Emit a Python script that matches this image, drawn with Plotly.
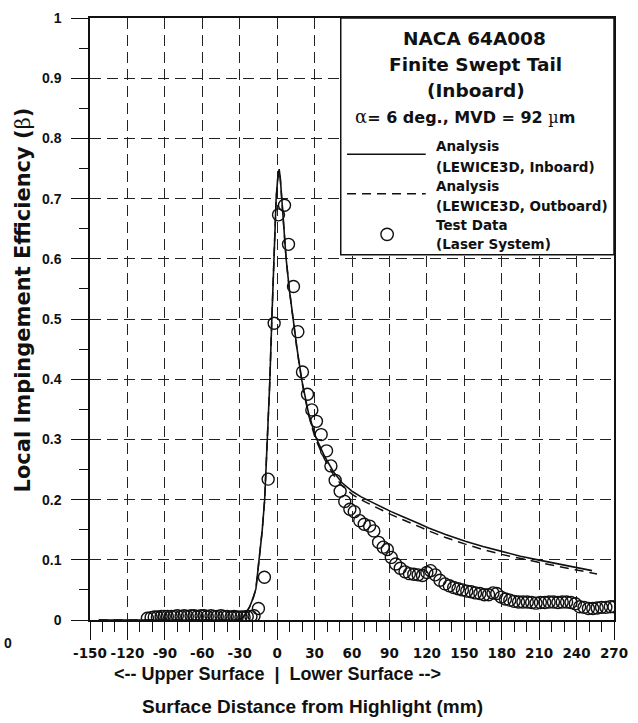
import plotly.graph_objects as go

# ---------------- data ----------------
# Analysis (LEWICE3D, Inboard) - solid line
inboard_s = [-143, -30, -26, -22, -19, -17, -14.5, -12, -10, -8.3, -6, -4.3, -2.5, -0.8, 0.5, 1.6,
             2.5, 3.7, 5.5, 7.2, 10, 12.9, 16, 19.8, 25, 30.5, 38, 45.2, 52, 60.7, 67, 74.6, 82,
             91.4, 99, 106.7, 114, 121.4, 135, 150.8, 165, 180, 195, 210, 225, 240, 252.4]
inboard_beta = [0, 0, 0.008, 0.022, 0.038, 0.052, 0.1, 0.148, 0.2, 0.279, 0.39, 0.497, 0.6, 0.70,
                0.735, 0.749, 0.735, 0.70, 0.65, 0.6, 0.545, 0.497, 0.45, 0.398, 0.345, 0.306,
                0.272, 0.246, 0.228, 0.213, 0.205, 0.197, 0.189, 0.180, 0.173, 0.167, 0.160,
                0.153, 0.142, 0.131, 0.122, 0.114, 0.106, 0.0995, 0.093, 0.087, 0.082]

# Analysis (LEWICE3D, Outboard) - dashed line
outboard_s = [-143, -30, -26, -22, -19, -17, -14.5, -12, -10, -8.3, -6, -4.3, -2.5, -0.8, 0.5, 1.6,
              2.5, 3.7, 5.5, 7.2, 10, 12.9, 16, 19.8, 25, 30.5, 38, 45.2, 52, 60.7, 67, 74.6, 82,
              91.4, 99, 106.7, 114, 121.4, 135, 150.8, 165, 180, 195, 210, 225, 240, 256.4]
outboard_beta = [0, 0, 0.008, 0.022, 0.038, 0.052, 0.1, 0.148, 0.2, 0.279, 0.39, 0.497, 0.6, 0.70,
                 0.733, 0.746, 0.733, 0.70, 0.65, 0.6, 0.545, 0.497, 0.448, 0.396, 0.342, 0.302,
                 0.267, 0.241, 0.223, 0.208, 0.200, 0.192, 0.184, 0.175, 0.168, 0.162, 0.155,
                 0.148, 0.137, 0.126, 0.117, 0.109, 0.102, 0.0955, 0.089, 0.083, 0.0766]

# Test Data (Laser System) - open circles
test_s = [-104, -101, -98.5, -96, -93, -90.5, -88, -85, -82.5, -80, -77, -74.5, -72, -69, -66.5,
          -64, -61, -58.5, -56, -53, -50.5, -48, -45, -42.5, -40, -37, -34.5, -32, -29, -26.5,
          -24, -21, -18.5, -15, -10.2, -7.2, -2.4, 1.1, 5.9, 9.1, 13.1, 16.6, 20.3, 24.3, 27.8,
          31.5, 35.3, 39.6, 43.1, 46.5, 50.5, 54.2, 58.3, 61.8, 66.2, 69.8, 74.1, 77.5, 81.3,
          85, 88.3, 91.5, 95, 98.7, 102.5, 106, 109.5, 113, 116.5, 120, 123, 126.7, 130.5,
          134.5, 138, 141.5, 145, 148.5, 152, 155.5, 159, 162.5, 166, 169.5, 173, 176, 179.5,
          183, 186.5, 190, 193.5, 197, 200.5, 204, 207.5, 211, 214.5, 218, 221.5, 225, 228.5,
          232, 235.5, 239, 242.5, 246, 249.5, 253, 256.5, 260, 263.5, 267, 270]
test_beta = [0.003, 0.004, 0.005, 0.005, 0.006, 0.006, 0.006, 0.006, 0.006, 0.007, 0.006, 0.007,
             0.006, 0.007, 0.007, 0.006, 0.007, 0.007, 0.006, 0.007, 0.006, 0.006, 0.007, 0.006,
             0.006, 0.005, 0.006, 0.005, 0.005, 0.005, 0.006, 0.006, 0.007, 0.019, 0.071, 0.234,
             0.493, 0.673, 0.689, 0.624, 0.554, 0.479, 0.412, 0.375, 0.349, 0.330, 0.308, 0.281,
             0.256, 0.232, 0.214, 0.197, 0.184, 0.180, 0.165, 0.159, 0.156, 0.148, 0.129, 0.121,
             0.117, 0.104, 0.093, 0.086, 0.080, 0.077, 0.076, 0.075, 0.074, 0.079, 0.082, 0.075,
             0.066, 0.060, 0.057, 0.054, 0.052, 0.050, 0.048, 0.047, 0.045, 0.044, 0.042, 0.042,
             0.045, 0.044, 0.038, 0.035, 0.033, 0.031, 0.030, 0.030, 0.030, 0.029, 0.028, 0.029,
             0.029, 0.030, 0.030, 0.029, 0.030, 0.030, 0.029, 0.027, 0.022, 0.021, 0.019, 0.019,
             0.020, 0.021, 0.021, 0.022, 0.022]

x_tick_values = [-150, -120, -90, -60, -30, 0, 30, 60, 90, 120, 150, 180, 210, 240, 270]
x_tick_labels = ["-150", "-120", "-90", "-60", "-30", "0", "30", "60", "90", "120", "150",
                 "180", "210", "240", "270"]
y_tick_values = [0, 0.1, 0.2, 0.3, 0.4, 0.5, 0.6, 0.7, 0.8, 0.9, 1]
y_tick_labels = ["0", "0.1", "0.2", "0.3", "0.4", "0.5", "0.6", "0.7", "0.8", "0.9", "1"]

legend_title = ["NACA 64A008", "Finite Swept Tail", "(Inboard)"]
legend_entries = [("Analysis", "(LEWICE3D, Inboard)"),
                  ("Analysis", "(LEWICE3D, Outboard)"),
                  ("Test Data", "(Laser System)")]

# ---------------- layout geometry (pixels) ----------------
W_PAGE, H_PAGE = 638, 723
ML, MR, MT, MB = 90, 22, 10, 103
PW, PH = W_PAGE - ML - MR, H_PAGE - MT - MB


def px(x):
    return (x - ML) / PW


def py(y):
    return (MT + PH - y) / PH


SANS = "DejaVu Sans"
ARIAL = "Liberation Sans, Arial, sans-serif"
BLACK = "#111111"

fig = go.Figure()

fig.add_trace(go.Scatter(x=inboard_s, y=inboard_beta, mode="lines",
                         line=dict(color=BLACK, width=1.6), showlegend=False))
fig.add_trace(go.Scatter(x=outboard_s, y=outboard_beta, mode="lines",
                         line=dict(color=BLACK, width=1.5, dash="9px,6px"), showlegend=False))
fig.add_trace(go.Scatter(x=test_s, y=test_beta, mode="markers",
                         marker=dict(symbol="circle-open", size=12, color=BLACK,
                                     line=dict(width=1.4, color=BLACK)),
                         showlegend=False))

grid_kw = dict(showgrid=True, gridcolor="#222222", gridwidth=1.1, griddash="11px,6px")

fig.update_xaxes(range=[-150, 270], tickmode="array", tickvals=x_tick_values,
                 ticktext=x_tick_labels, ticks="outside", ticklen=18, tickwidth=1.3,
                 tickcolor=BLACK, showline=True, linecolor=BLACK, linewidth=1.5, mirror=True,
                 zeroline=False, ticklabelstandoff=2,
                 tickfont=dict(family=SANS, size=13.5, color=BLACK, weight="bold"),
                 minor=dict(tickmode="linear", tick0=-150, dtick=10, ticks="outside",
                            ticklen=10, tickwidth=1.2, tickcolor=BLACK, showgrid=False),
                 **grid_kw)
fig.update_yaxes(range=[0, 1], tickmode="array", tickvals=y_tick_values,
                 ticktext=y_tick_labels, ticks="outside", ticklen=17, tickwidth=1.3,
                 tickcolor=BLACK, showline=True, linecolor=BLACK, linewidth=1.5, mirror=True,
                 zeroline=False, ticklabelstandoff=7,
                 tickfont=dict(family=ARIAL, size=14, color=BLACK, weight="bold"),
                 minor=dict(tickmode="linear", tick0=0, dtick=0.05, ticks="outside",
                            ticklen=9, tickwidth=1.2, tickcolor=BLACK, showgrid=False),
                 **grid_kw)

shapes = []
# legend box
shapes.append(dict(type="rect", xref="paper", yref="paper", x0=px(341.7), x1=1.0,
                   y0=py(250), y1=1.0, fillcolor="white", line=dict(color=BLACK, width=1.5),
                   layer="above"))
shapes.append(dict(type="line", xref="paper", yref="paper", x0=px(348), x1=px(427),
                   y0=py(148), y1=py(148), line=dict(color=BLACK, width=1.6), layer="above"))
shapes.append(dict(type="line", xref="paper", yref="paper", x0=px(348), x1=px(427),
                   y0=py(188), y1=py(188), line=dict(color=BLACK, width=1.5, dash="9px,6px"),
                   layer="above"))
shapes.append(dict(type="circle", xref="paper", yref="paper", x0=px(382), x1=px(394.5),
                   y0=py(235.5), y1=py(223), line=dict(color=BLACK, width=1.4),
                   fillcolor="rgba(0,0,0,0)", layer="above"))

annotations = []


def ann(text, x, y, size, family=SANS, xanchor="center", angle=0, weight="bold"):
    annotations.append(dict(text=text, x=px(x), y=py(y), xref="paper", yref="paper",
                            xanchor=xanchor, yanchor="middle", showarrow=False,
                            textangle=angle,
                            font=dict(family=family, size=size, color=BLACK, weight=weight)))


ann(legend_title[0], 476, 31, 18.5)
ann(legend_title[1], 477, 57, 18.5)
ann(legend_title[2], 477, 83, 18.5)
ann("<span style='font-family:DejaVu Serif;font-weight:normal;font-size:18px'>α</span>= 6 deg., MVD = 92 "
    "<span style='font-family:DejaVu Serif;font-weight:normal'>µ</span>m", 466, 110, 16)
ann(legend_entries[0][0], 435, 140, 13.5, xanchor="left")
ann(legend_entries[0][1], 435, 161, 13.5, xanchor="left")
ann(legend_entries[1][0], 435, 180, 13.5, xanchor="left")
ann(legend_entries[1][1], 435, 200, 13.5, xanchor="left")
ann(legend_entries[2][0], 435, 220, 13.5, xanchor="left")
ann(legend_entries[2][1], 435, 239, 13.5, xanchor="left")

# axis titles
ann("Local Impingement Efficiency (<span style='font-family:DejaVu Serif;font-weight:normal'>β</span>)",
    23, 296, 21, angle=-90)
ann("<-- Upper Surface  |  Lower Surface -->", 278, 675, 18, family=ARIAL)
ann("Surface Distance from Highlight (mm)", 313, 708, 19, family=ARIAL)
# stray label at left edge of the scanned page
ann("0", 8, 643, 14, family=ARIAL)

fig.update_layout(width=W_PAGE, height=H_PAGE,
                  margin=dict(l=ML, r=MR, t=MT, b=MB, pad=0),
                  paper_bgcolor="white", plot_bgcolor="white",
                  shapes=shapes, annotations=annotations, showlegend=False)

fig.write_html("out.html", config={"displayModeBar": False})
